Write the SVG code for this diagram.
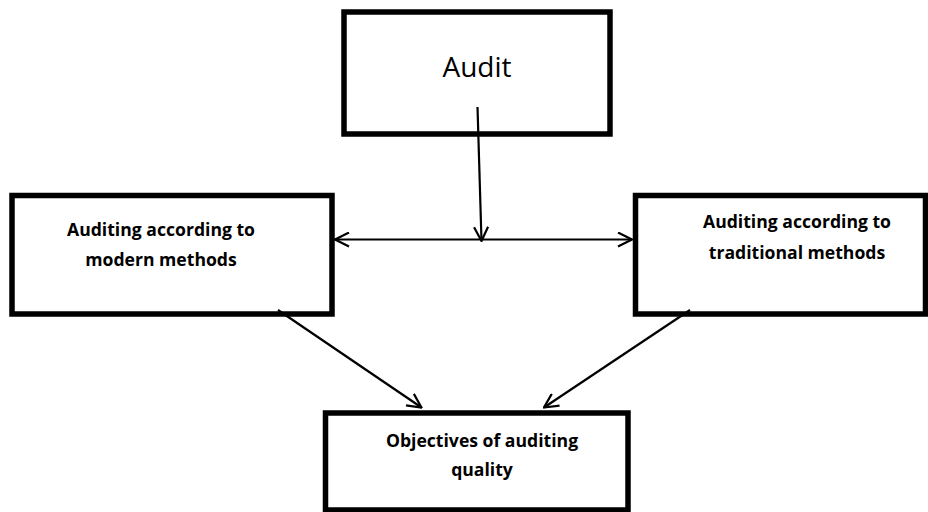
<svg xmlns="http://www.w3.org/2000/svg" width="928" height="512" viewBox="0 0 928 512">
<style>
.box{fill:#fff;stroke:#000;stroke-width:5.5}
.t{font-family:"Open Sans","Liberation Sans",sans-serif;fill:#000;text-anchor:middle}
.b{font-weight:700;font-size:17.6px}
.c{fill:none;stroke:#000;stroke-width:2.2}
</style>
<defs>
<marker id="ah" viewBox="0 0 16 16" refX="15" refY="8" markerWidth="16" markerHeight="16" markerUnits="userSpaceOnUse" orient="auto-start-reverse">
<path d="M1,1 L15,8 L1,15" fill="none" stroke="#000" stroke-width="2.2"/>
</marker>
</defs>
<rect width="928" height="512" fill="#fff"/>
<g id="audit">
<rect class="box" x="344" y="12" width="266" height="122"/>
<text class="t" x="477" y="77" font-size="28">Audit</text>
</g>
<g id="modern">
<rect class="box" x="12" y="195.5" width="320" height="118.5"/>
<text class="t b" x="161" y="236">Auditing according to</text>
<text class="t b" x="161" y="266">modern methods</text>
</g>
<g id="traditional">
<rect class="box" x="635.5" y="195.5" width="290" height="118.5"/>
<text class="t b" x="797" y="228">Auditing according to</text>
<text class="t b" x="797" y="259">traditional methods</text>
</g>
<g id="objectives">
<rect class="box" x="325.5" y="413" width="302.5" height="97"/>
<text class="t b" x="482" y="447">Objectives of auditing</text>
<text class="t b" x="482" y="476">quality</text>
</g>
<g id="connectors">
<line class="c" x1="477.5" y1="107" x2="481.5" y2="241" marker-end="url(#ah)"/>
<line class="c" x1="335" y1="239.5" x2="632" y2="239.5" marker-start="url(#ah)" marker-end="url(#ah)"/>
<line class="c" x1="278" y1="310" x2="421.5" y2="407.5" marker-end="url(#ah)"/>
<line class="c" x1="690" y1="310" x2="544" y2="407.5" marker-end="url(#ah)"/>
</g>
</svg>
